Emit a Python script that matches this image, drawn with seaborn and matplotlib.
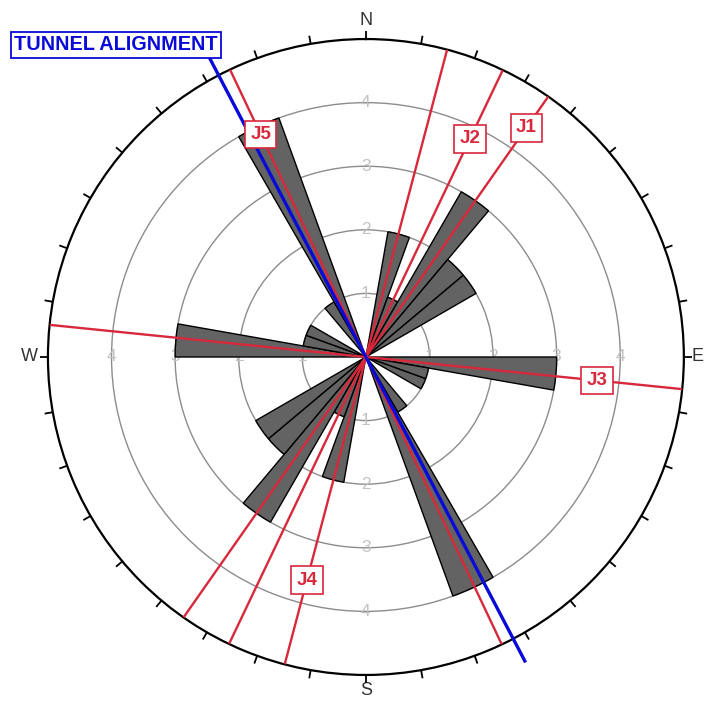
import numpy as np
import pandas as pd
import matplotlib
matplotlib.use("Agg")
import matplotlib.pyplot as plt
import seaborn as sns

# Joint strike frequencies in 10-degree bins (lower bin edge, 0-180);
# the rose is bidirectional, so each bin is mirrored at +180 degrees.
bin_starts = [0, 10, 20, 30, 40, 50, 60, 70, 80, 90, 100, 110, 120, 130, 140, 150, 160, 170]
bin_counts = [0, 2, 1, 3, 2, 2, 0, 0, 0, 3, 1, 1, 0, 0, 1, 4, 0, 0]

# Mean strike of each joint set and where its tag sits (azimuth, radius)
joint_sets = ["J1", "J2", "J3", "J4", "J5"]
joint_strikes = [35.0, 25.5, 95.8, 14.8, 154.7]
tag_azimuths = [35.0, 25.5, 95.8, 194.8, 334.7]
tag_radii = [4.40, 3.80, 3.65, 3.63, 3.87]

tunnel_strike = 152.4
tunnel_label = "TUNNEL ALIGNMENT"

ring_values = [1, 2, 3, 4]
compass_labels = ["N", "E", "S", "W"]

sns.set_theme(style="white")
plt.rcParams["font.family"] = ["Liberation Sans", "DejaVu Sans"]

bar_color = "#636363"
joint_color = "#d8283c"
tunnel_color = "#0a0ad8"
ring_color = "#8c8c8c"
R_MAX = 5.0
TICK_LEN = 0.13

half = pd.DataFrame({"start": bin_starts, "count": bin_counts})
rose = pd.concat([half, half.assign(start=half["start"] + 180)], ignore_index=True)
rose = rose[rose["count"] > 0]

fig = plt.figure(figsize=(7.05, 7.04), dpi=100)
ax = fig.add_axes([0.068, 0.0412, 0.902, 0.9034], projection="polar")
ax.set_theta_zero_location("N")
ax.set_theta_direction(-1)
ax.set_ylim(0, R_MAX)

# concentric frequency rings
ax.set_yticks(ring_values)
ax.set_yticklabels([])
ax.yaxis.grid(True, color=ring_color, linewidth=1.0)
ax.xaxis.grid(False)
ax.set_xticks([])
ax.spines["polar"].set_color("black")
ax.spines["polar"].set_linewidth(1.6)

# 10-degree ticks pointing outward from the rim
for d in range(0, 360, 10):
    ax.plot([np.deg2rad(d)] * 2, [R_MAX, R_MAX + TICK_LEN], color="black",
            lw=1.3, clip_on=False, zorder=5, solid_capstyle="butt")

# compass letters on the cardinal directions
for label, az, r in zip(compass_labels, [0, 90, 180, 270], [5.29, 5.21, 5.24, 5.29]):
    ax.text(np.deg2rad(az), r, label, ha="center", va="center", fontsize=13,
            color="#333333", clip_on=False)

# ring values along the four cardinal directions
for az in [0, 90, 180, 270]:
    for r in ring_values:
        ax.text(np.deg2rad(az), r, str(r), ha="center", va="center",
                fontsize=12.5, color="#c2c2c2", zorder=1)

# rose petals
ax.bar(np.deg2rad(rose["start"] + 5), rose["count"], width=np.deg2rad(10),
       bottom=0, align="center", color=bar_color, edgecolor="black",
       linewidth=1.0, zorder=2)

# joint set traces through the centre
for name, strike, taz, tr in zip(joint_sets, joint_strikes, tag_azimuths, tag_radii):
    for a in (strike, strike + 180):
        ax.plot([np.deg2rad(a)] * 2, [0, R_MAX], color=joint_color, lw=1.7,
                zorder=3, solid_capstyle="butt")
    ax.text(np.deg2rad(taz), tr, name, ha="center", va="center", fontsize=13.5,
            fontweight="bold", color=joint_color, zorder=6,
            bbox=dict(boxstyle="square,pad=0.28", fc="white", ec=joint_color, lw=1.2))

# tunnel alignment
ax.plot([np.deg2rad(tunnel_strike)] * 2, [0, 5.42], color=tunnel_color, lw=2.4,
        zorder=4, clip_on=False, solid_capstyle="butt")
ax.plot([np.deg2rad(tunnel_strike + 180)] * 2, [0, 5.31], color=tunnel_color, lw=2.4,
        zorder=4, clip_on=False, solid_capstyle="butt")
fig.text(116 / 705, 1 - 45 / 704, tunnel_label, ha="center", va="center",
         fontsize=14.3, fontweight="bold", color=tunnel_color, zorder=7,
         bbox=dict(boxstyle="square,pad=0.18", fc="white", ec=tunnel_color, lw=1.3))

fig.savefig("out.png", dpi=100, facecolor="white")
